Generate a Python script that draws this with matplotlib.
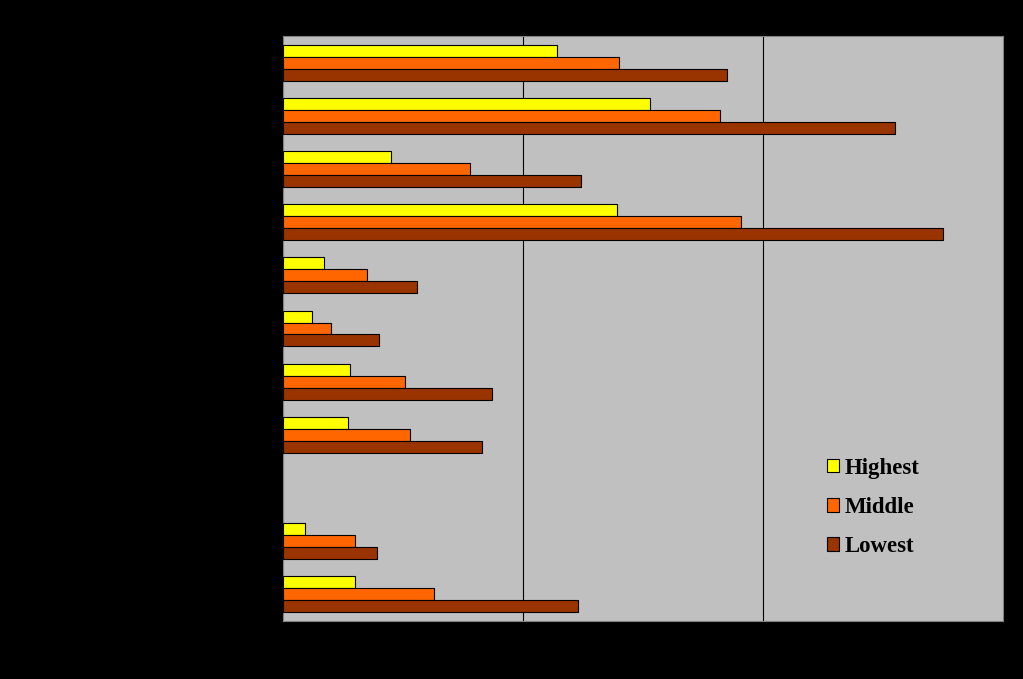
import numpy as np
import matplotlib.pyplot as plt
from matplotlib.patches import Patch

# categories (labels are black on black in the original, so none are shown)
groups = ["G1", "G2", "G3", "G4", "G5", "G6", "G7", "G8", "", "G10", "G11"]
highest = [11.4, 15.3, 4.5, 13.9, 1.7, 1.2, 2.8, 2.7, np.nan, 0.9, 3.0]
middle = [14.0, 18.2, 7.8, 19.1, 3.5, 2.0, 5.1, 5.3, np.nan, 3.0, 6.3]
lowest = [18.5, 25.5, 12.4, 27.5, 5.6, 4.0, 8.7, 8.3, np.nan, 3.9, 12.3]

series = [("Highest", highest, "#FFFF00"),
          ("Middle", middle, "#FF6600"),
          ("Lowest", lowest, "#993300")]

fig = plt.figure(figsize=(10.23, 6.79), dpi=100, facecolor="black")
ax = fig.add_axes([283 / 1023, 1 - 621 / 679, 720 / 1023, 585 / 679])
ax.set_facecolor("#C0C0C0")

y = np.arange(len(groups))
h = 0.2256
for k, (name, vals, col) in enumerate(series):
    ax.barh(y + (k - 1) * h, vals, height=h, color=col,
            edgecolor="black", linewidth=0.8, label=name, zorder=3)

ax.set_xlim(0, 30)
ax.set_ylim(len(groups) - 0.5, -0.5)
for gx in (10, 20):
    ax.axvline(gx, color="black", linewidth=0.8, zorder=1)
ax.set_xticks([])
ax.set_yticks([])
for s in ax.spines.values():
    s.set_color("#808080")
    s.set_linewidth(0.8)

handles = [Patch(facecolor=c, edgecolor="black", linewidth=0.8, label=n)
           for n, _, c in series]
ax.legend(handles=handles, loc="upper left",
          bbox_to_anchor=(806 / 1023, 1 - 437 / 679),
          bbox_transform=fig.transFigure, frameon=False,
          prop={"family": "Liberation Serif", "weight": "bold", "size": 16.5},
          handlelength=0.55, handleheight=0.55, handletextpad=0.24,
          labelspacing=0.8)

fig.savefig("out.png", dpi=100, facecolor="black")
